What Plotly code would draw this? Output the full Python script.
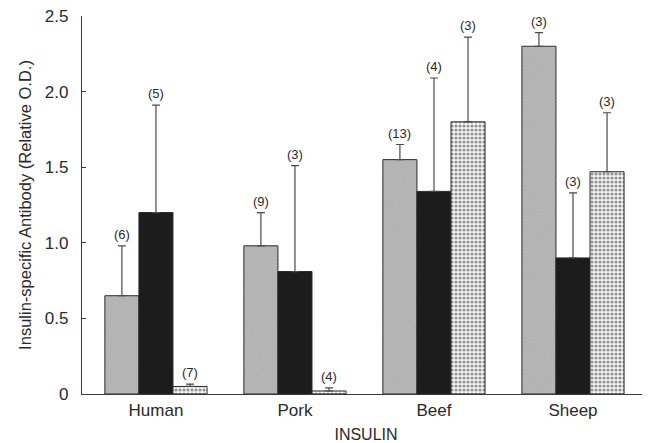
import numpy as np
import plotly.graph_objects as go

categories = ["Human", "Pork", "Beef", "Sheep"]
series_names = ["Group 1", "Group 2", "Group 3"]

means_1 = [0.65, 0.98, 1.55, 2.30]
means_2 = [1.20, 0.81, 1.34, 0.90]
means_3 = [0.05, 0.02, 1.80, 1.47]

err_1 = [0.33, 0.22, 0.10, 0.09]
err_2 = [0.71, 0.70, 0.75, 0.43]
err_3 = [0.015, 0.02, 0.56, 0.39]

n_1 = [6, 9, 13, 3]
n_2 = [5, 3, 4, 3]
n_3 = [7, 4, 3, 3]

ytick_vals = [0, 0.5, 1.0, 1.5, 2.0, 2.5]
ytick_text = ["0", "0.5", "1.0", "1.5", "2.0", "2.5"]

FONT = "Liberation Sans, Arial, Helvetica, sans-serif"
TXT = "#2a2a2a"

bargap = 0.265
n_series = 3
bar_w = (1 - bargap) / n_series

styles = [
    dict(color="#b4b4b4", pattern=dict(shape="/", fgcolor="#939393", bgcolor="#bcbcbc", size=2.5, solidity=0.4)),
    dict(color="#1c1c1c", pattern=None),
    dict(color="#ffffff", pattern=dict(shape=".", fgcolor="#303030", bgcolor="#f6f6f6", size=4, solidity=0.5)),
]

means = [means_1, means_2, means_3]
errs = [err_1, err_2, err_3]
ns = [n_1, n_2, n_3]

xidx = np.arange(len(categories))
fig = go.Figure()

for j in range(n_series):
    marker = dict(color=styles[j]["color"], line=dict(color="#2a2a2a", width=1))
    if styles[j]["pattern"] is not None:
        marker["pattern"] = styles[j]["pattern"]
    fig.add_trace(go.Bar(
        x=xidx, y=means[j], name=series_names[j], marker=marker,
        error_y=dict(type="data", symmetric=False, array=errs[j],
                     arrayminus=[0] * len(categories),
                     color="#4a4a4a", thickness=1.2, width=4),
        showlegend=False,
    ))

for j in range(n_series):
    xs = xidx + (j - (n_series - 1) / 2) * bar_w
    ys = np.array(means[j]) + np.array(errs[j])
    for xv, yv, nv in zip(xs, ys, ns[j]):
        fig.add_annotation(
            x=xv, y=yv, text=f"({nv})", showarrow=False,
            yanchor="bottom", yshift=2,
            font=dict(family=FONT, size=13, color=TXT),
        )

fig.update_layout(
    width=650, height=443,
    margin=dict(l=74, r=8, t=8, b=57, autoexpand=False),
    paper_bgcolor="white", plot_bgcolor="white",
    barmode="group", bargap=bargap, bargroupgap=0,
    font=dict(family=FONT, color=TXT),
    showlegend=False,
)
fig.update_xaxes(
    range=[-0.532, 3.554], tickvals=list(xidx), ticktext=categories,
    showline=True, linecolor="#3a3a3a", linewidth=1.2, ticks="",
    showgrid=False, zeroline=False, automargin=False,
    tickfont=dict(family=FONT, size=17, color=TXT),
    title=dict(text="INSULIN", font=dict(family=FONT, size=16, color=TXT), standoff=10),
)
fig.update_yaxes(
    range=[0, 2.5], tickvals=ytick_vals, ticktext=ytick_text,
    showline=True, linecolor="#3a3a3a", linewidth=1.2,
    ticks="inside", ticklen=4, tickcolor="#3a3a3a", ticklabelstandoff=9,
    ticklabeloverflow="allow", automargin=False,
    showgrid=False, zeroline=False,
    tickfont=dict(family=FONT, size=17, color=TXT),
    title=dict(text="Insulin-specific Antibody (Relative O.D.)",
               font=dict(family=FONT, size=16.5, color=TXT), standoff=9),
)

fig.write_html("out.html")
